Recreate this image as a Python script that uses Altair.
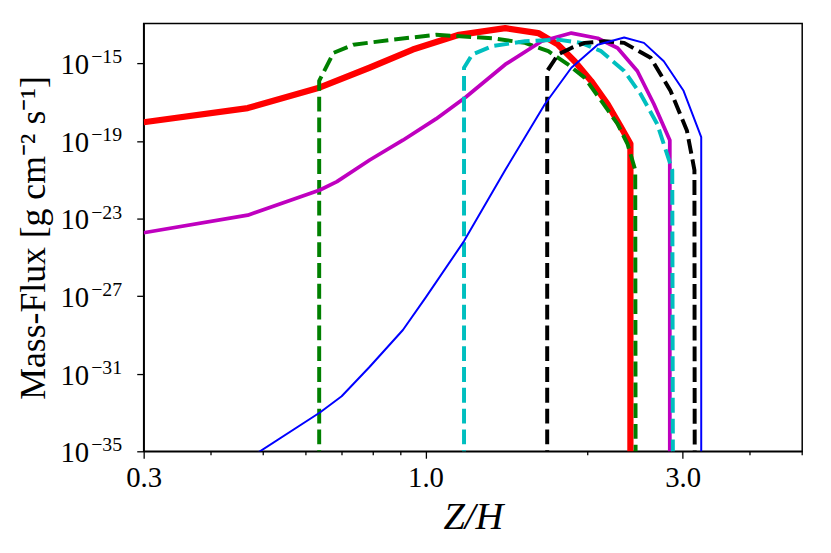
import altair as alt
import pandas as pd

# ---- data (Z/H, mass flux in g cm^-2 s^-1) ----
red_z = [0.300, 0.468, 0.637, 0.787, 0.947, 1.154, 1.406, 1.619, 1.762, 1.891, 2.029, 2.177, 2.305, 2.400, 2.400]
red_f = [9.3e-19, 5.0e-18, 5.8e-17, 6.0e-16, 5.2e-15, 3.0e-14, 6.6e-14, 3.7e-14, 9.3e-15, 1.3e-15, 1.26e-16, 8.1e-18, 5.2e-19, 7.2e-20, 1e-40]

green_z = [0.635, 0.635, 0.675, 0.735, 0.871, 1.046, 1.329, 1.530, 1.690, 1.838, 1.973, 2.118, 2.272, 2.370, 2.450, 2.455]
green_f = [1e-40, 1.26e-16, 3.5e-15, 9.3e-15, 1.7e-14, 3.0e-14, 2.0e-14, 1.15e-14, 4.3e-15, 8.9e-16, 1.86e-16, 1.2e-17, 7.6e-19, 7.2e-20, 3.2e-21, 1e-40]

cyan_z = [1.179, 1.179, 1.221, 1.329, 1.530, 1.762, 1.945, 2.118, 2.337, 2.508, 2.691, 2.870, 2.880]
cyan_f = [1e-40, 6.0e-16, 2.9e-15, 7.8e-15, 1.4e-14, 1.7e-14, 1.15e-14, 4.3e-15, 4.1e-16, 2.6e-17, 7.6e-19, 3.2e-21, 1e-40]

magenta_z = [0.300, 0.468, 0.637, 0.685, 0.788, 0.908, 1.046, 1.187, 1.406, 1.643, 1.865, 2.087, 2.272, 2.472, 2.653, 2.840, 2.840]
magenta_f = [1.86e-24, 1.5e-23, 3.0e-22, 8.1e-22, 1.05e-20, 1.1e-19, 1.38e-18, 1.8e-17, 8.9e-16, 1.4e-14, 3.7e-14, 2.0e-14, 6.3e-15, 4.1e-16, 8.1e-18, 1.1e-19, 1e-40]

black_z = [1.682, 1.682, 1.762, 1.865, 1.973, 2.147, 2.337, 2.617, 2.848, 3.055, 3.155, 3.160]
black_f = [1e-40, 4.1e-16, 2.9e-15, 6.3e-15, 1.15e-14, 1.4e-14, 1.15e-14, 1.95e-15, 3.9e-17, 3.5e-19, 3.2e-21, 1e-40]

blue_z = [0.468, 0.637, 0.699, 0.788, 0.908, 1.002, 1.179, 1.406, 1.666, 1.865, 2.087, 2.337, 2.543, 2.768, 3.012, 3.248, 3.248]
blue_f = [3.9e-36, 1.0e-33, 6.9e-33, 2.3e-31, 1.8e-29, 8.9e-28, 6.9e-25, 3.2e-21, 8.1e-18, 6.0e-16, 9.3e-15, 2.2e-14, 1.15e-14, 1.3e-15, 3.9e-17, 1.6e-19, 1e-40]

# ticks
x_major = [0.3, 1.0, 3.0]
x_minor = [0.4, 0.5, 0.6, 0.7, 0.8, 0.9, 2.0, 4.0, 5.0]
y_major = [1e-35, 1e-31, 1e-27, 1e-23, 1e-19, 1e-15]
y_exp = ["\u221235", "\u221231", "\u221227", "\u221223", "\u221219", "\u221215"]

FONT = "Liberation Serif"
W, H = 665, 432

series = [
    ("red", red_z, red_f, "#ff0000", 6.3, None),
    ("green", green_z, green_f, "#008000", 4.0, [15, 6]),
    ("magenta", magenta_z, magenta_f, "#bf00bf", 3.8, None),
    ("cyan", cyan_z, cyan_f, "#00bfbf", 4.0, [15, 6]),
    ("black", black_z, black_f, "#000000", 4.0, [15, 6]),
    ("blue", blue_z, blue_f, "#0000ff", 2.0, None),
]

xscale = alt.Scale(type="log", domain=[0.3, 5.0], nice=False)
yscale = alt.Scale(type="log", domain=[1e-35, 1.15e-13], nice=False)

xaxis = alt.Axis(
    values=x_major, format=".1f", tickSize=7, tickWidth=1.3, tickColor="black",
    domainColor="black", domainWidth=1.5, grid=False,
    labelFont=FONT, labelFontSize=29, labelColor="black", labelBaseline="alphabetic",
    labelPadding=29, labelFlush=False, labelOverlap=False,
    title="Z/H", titleFont=FONT, titleFontSize=39, titleFontStyle="italic",
    titleFontWeight="normal", titleColor="black", titleY=78, titleBaseline="alphabetic",
)
yaxis = alt.Axis(
    values=y_major, labels=False, tickSize=7, tickWidth=1.3, tickColor="black",
    domainColor="black", domainWidth=1.5, grid=False,
    title="Mass-Flux [g cm\u207b\u00b2 s\u207b\u00b9]", titleFont=FONT, titleFontSize=36,
    titleFontWeight="normal", titleColor="black", titleAngle=270, titleX=-100, titleY=216,
    titleAlign="center", titleBaseline="alphabetic",
)

layers = []
for name, zs, fs, color, sw, dash in series:
    d = pd.DataFrame({"z": zs, "flux": fs, "i": list(range(len(zs)))})
    kw = dict(clip=True, color=color, strokeWidth=sw, strokeJoin="round")
    if dash:
        kw["strokeDash"] = dash
    layers.append(
        alt.Chart(d).mark_line(**kw).encode(
            x=alt.X("z:Q", scale=xscale, axis=xaxis),
            y=alt.Y("flux:Q", scale=yscale, axis=yaxis),
            order="i:Q",
        )
    )

minor_df = pd.DataFrame({"z": x_minor})
minor = alt.Chart(minor_df).mark_rule(color="black", strokeWidth=1.3).encode(
    x=alt.X("z:Q", scale=xscale, axis=xaxis),
    y=alt.value(H), y2=alt.value(H + 4),
)

yt_df = pd.DataFrame({"flux": y_major, "sup": y_exp})
ybase = alt.Chart(yt_df).mark_text(
    align="right", baseline="middle", font=FONT, fontSize=29, color="black", dy=2
).encode(
    x=alt.value(-55), y=alt.Y("flux:Q", scale=yscale, axis=yaxis), text=alt.value("10")
)
ysup = alt.Chart(yt_df).mark_text(
    align="left", baseline="middle", font=FONT, fontSize=20, color="black", dy=-6
).encode(
    x=alt.value(-53), y=alt.Y("flux:Q", scale=yscale, axis=yaxis), text="sup:N"
)

chart = alt.layer(*layers, minor, ybase, ysup).properties(
    width=W, height=H,
    padding={"left": 137, "top": 13, "right": 21, "bottom": 95},
    autosize=alt.AutoSizeParams(type="none"),
    background="white",
).configure_view(stroke="black", strokeWidth=1.5)

chart.save("out.html", embed_options={"renderer": "svg", "actions": False})
